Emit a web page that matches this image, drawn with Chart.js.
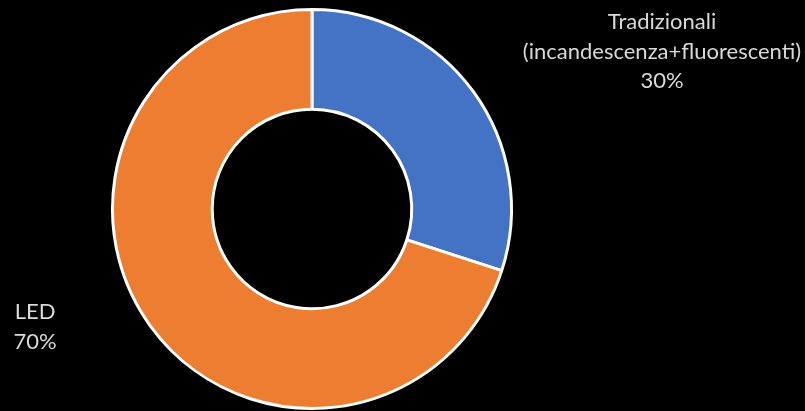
<!DOCTYPE html>
<html>
<head>
<meta charset="utf-8">
<script src="https://cdn.jsdelivr.net/npm/chart.js@4.4.0/dist/chart.umd.min.js"></script>
<style>
  html, body { margin: 0; padding: 0; background: #000; }
  #wrap { width: 805px; height: 411px; }
</style>
</head>
<body>
<div id="wrap"><canvas id="lampade"></canvas></div>
<script>
// Quote di mercato: lampade tradizionali vs LED
const categorie = ["Tradizionali\n(incandescenza+fluorescenti)", "LED"];
const quote = [30, 70];
const colori = ["#4472C4", "#ED7D31"];

// posizione delle etichette (centro del blocco di testo)
const posEtichette = [
    { x: 662, y: 22 },
    { x: 35, y: 312 },
];

const etichettePlugin = {
    id: "etichette",
    afterDatasetsDraw(chart) {
        const ctx = chart.ctx;
        ctx.save();
        ctx.fillStyle = "#d9d9d9";
        ctx.font = "22px Lato";
        ctx.textAlign = "center";
        ctx.textBaseline = "middle";
        chart.data.labels.forEach((lab, i) => {
            const righe = lab.split("\n").concat([quote[i] + "%"]);
            const p = posEtichette[i];
            righe.forEach((r, j) => {
                ctx.fillText(r, p.x, p.y + j * 29.5);
            });
        });
        ctx.restore();
    },
};

new Chart(document.getElementById("lampade"), {
    type: "doughnut",
    data: {
        labels: categorie,
        datasets: [{
            data: quote,
            backgroundColor: colori,
            borderColor: "#ffffff",
            borderWidth: 3,
            borderAlign: "center",
        }],
    },
    options: {
        responsive: true,
        maintainAspectRatio: false,
        animation: false,
        cutout: "50%",
        layout: { padding: { left: 111, right: 292, top: 8, bottom: 1 } },
        plugins: {
            legend: { display: false },
            tooltip: { enabled: false },
        },
    },
    plugins: [etichettePlugin],
});
</script>
</body>
</html>
